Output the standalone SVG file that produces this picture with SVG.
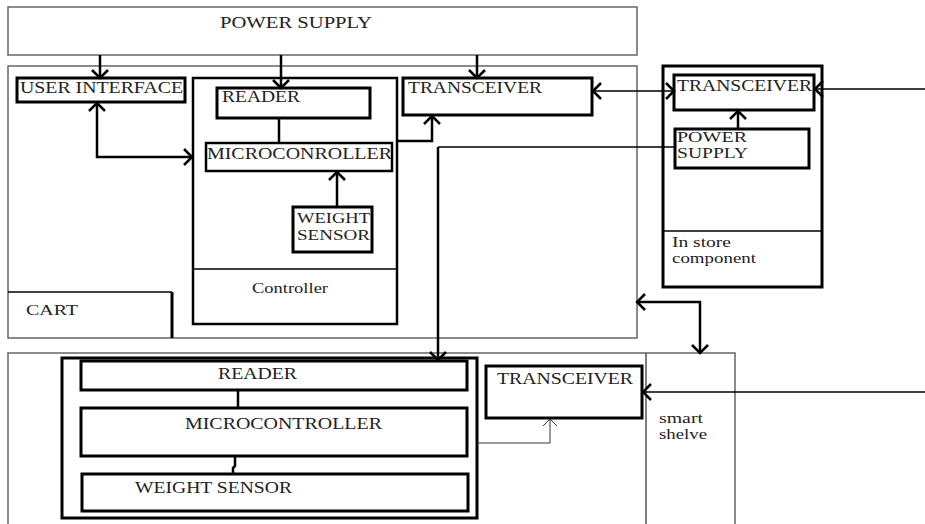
<svg xmlns="http://www.w3.org/2000/svg" width="925" height="524" viewBox="0 0 925 524">
<style>
.bg{fill:#fff}
.thin{fill:none;stroke:#666;stroke-width:1.5}
.box{fill:#fff;stroke:#000;stroke-width:3}
.mid{fill:none;stroke:#000;stroke-width:2.5}
.t{font-family:"Liberation Serif","Times New Roman",serif;font-size:17px;fill:#222}
.t2{font-family:"Liberation Serif","Times New Roman",serif;font-size:14.5px;fill:#222}
.s{font-family:"Liberation Serif","Times New Roman",serif;font-size:15px;fill:#222}
.s2{font-family:"Liberation Serif","Times New Roman",serif;font-size:14px;fill:#222}
.c{fill:none;stroke:#000;stroke-width:2.5}
.cl{fill:none;stroke:#000;stroke-width:1.5}
.cs{fill:none;stroke:#333;stroke-width:1}
</style>
<defs>
<marker id="ah" markerUnits="userSpaceOnUse" viewBox="-12 -10 14 20" markerWidth="14" markerHeight="20" refX="0" refY="0" orient="auto-start-reverse">
<path d="M-8,-8 L0,0 L-8,8" fill="none" stroke="#000" stroke-width="2.5"/>
</marker>
<marker id="ahs" markerUnits="userSpaceOnUse" viewBox="-12 -10 14 20" markerWidth="14" markerHeight="20" refX="0" refY="0" orient="auto-start-reverse">
<path d="M-7,-7 L0,0 L-7,7" fill="none" stroke="#333" stroke-width="1"/>
</marker>
</defs>
<rect class="bg" x="0" y="0" width="925" height="524"/>

<g id="power-supply">
<rect class="thin" x="8" y="7" width="629" height="48"/>
<text class="t" x="220" y="28" textLength="152" lengthAdjust="spacingAndGlyphs">POWER SUPPLY</text>
</g>

<g id="cart">
<rect class="thin" x="8" y="66" width="629" height="272" stroke="#444"/>
<path d="M8,292 H172" fill="none" stroke="#000" stroke-width="1.5"/>
<path d="M172,292 V338" fill="none" stroke="#000" stroke-width="3"/>
<text class="s" x="26" y="315" textLength="52" lengthAdjust="spacingAndGlyphs">CART</text>
</g>

<g id="user-interface">
<rect class="box" x="17" y="78" width="168" height="24"/>
<text class="t" x="20" y="93" textLength="163" lengthAdjust="spacingAndGlyphs">USER INTERFACE</text>
</g>

<g id="controller">
<rect class="mid" x="193" y="78" width="204" height="246"/>
<line x1="193" y1="269" x2="397" y2="269" stroke="#000" stroke-width="1.5"/>
<text class="s" x="252" y="293" textLength="76" lengthAdjust="spacingAndGlyphs">Controller</text>
</g>

<g id="cart-reader">
<rect class="box" x="217" y="88" width="153" height="30"/>
<text class="t" x="222" y="102" textLength="78" lengthAdjust="spacingAndGlyphs">READER</text>
</g>

<g id="cart-microcontroller">
<rect class="mid" x="206" y="143" width="186" height="28"/>
<text class="t" x="207" y="159" textLength="185" lengthAdjust="spacingAndGlyphs">MICROCONROLLER</text>
</g>

<g id="cart-weight-sensor">
<rect class="box" x="293" y="207" width="79" height="45"/>
<text class="t2" x="297" y="223" textLength="73" lengthAdjust="spacingAndGlyphs">WEIGHT</text>
<text class="t2" x="297" y="240" textLength="73" lengthAdjust="spacingAndGlyphs">SENSOR</text>
</g>

<g id="cart-transceiver">
<rect class="box" x="403" y="78" width="189" height="37"/>
<text class="t" x="408" y="93" textLength="134" lengthAdjust="spacingAndGlyphs">TRANSCEIVER</text>
</g>

<g id="in-store-component">
<rect class="box" x="663" y="66" width="159" height="221"/>
<line x1="663" y1="231" x2="822" y2="231" stroke="#000" stroke-width="1.5"/>
<text class="s2" x="672" y="247" textLength="59" lengthAdjust="spacingAndGlyphs">In store</text>
<text class="s2" x="672" y="263" textLength="84" lengthAdjust="spacingAndGlyphs">component</text>
</g>

<g id="store-transceiver">
<rect class="box" x="674" y="75" width="140" height="35"/>
<text class="t" x="677" y="91" textLength="135" lengthAdjust="spacingAndGlyphs">TRANSCEIVER</text>
</g>

<g id="store-power-supply">
<rect class="box" x="675" y="129" width="134" height="39"/>
<text class="t2" x="677" y="142" textLength="70" lengthAdjust="spacingAndGlyphs">POWER</text>
<text class="t2" x="677" y="158" textLength="71" lengthAdjust="spacingAndGlyphs">SUPPLY</text>
</g>

<g id="smart-shelve">
<path d="M8,530 V353 H735 V530" class="thin" stroke="#555"/>
<line x1="646" y1="353" x2="646" y2="530" stroke="#555" stroke-width="1.5"/>
<text class="s2" x="659" y="423" textLength="44" lengthAdjust="spacingAndGlyphs">smart</text>
<text class="s2" x="659" y="439" textLength="48" lengthAdjust="spacingAndGlyphs">shelve</text>
</g>

<g id="shelf-controller">
<rect class="box" x="62" y="358" width="415" height="160"/>
</g>

<g id="shelf-reader">
<rect class="box" x="81" y="361" width="386" height="29"/>
<text class="t" x="218" y="379" textLength="79" lengthAdjust="spacingAndGlyphs">READER</text>
</g>

<g id="shelf-microcontroller">
<rect class="box" x="81" y="408" width="386" height="48"/>
<text class="t" x="185" y="429" textLength="197" lengthAdjust="spacingAndGlyphs">MICROCONTROLLER</text>
</g>

<g id="shelf-weight-sensor">
<rect class="box" x="82" y="474" width="386" height="37"/>
<text class="t" x="135" y="493" textLength="157" lengthAdjust="spacingAndGlyphs">WEIGHT SENSOR</text>
</g>

<g id="shelf-transceiver">
<rect class="box" x="486" y="366" width="156" height="52"/>
<text class="t" x="497" y="384" textLength="136" lengthAdjust="spacingAndGlyphs">TRANSCEIVER</text>
</g>

<g id="connectors">
<path class="c" d="M100,55 V78" marker-end="url(#ah)"/>
<path class="c" d="M281,55 V88" marker-end="url(#ah)"/>
<path class="c" d="M477,55 V78" marker-end="url(#ah)"/>
<path class="c" d="M97,103 V157 H192" marker-start="url(#ah)" marker-end="url(#ah)"/>
<path class="c" d="M279,118 V143"/>
<path class="c" d="M337,207 V172" marker-end="url(#ah)"/>
<path class="c" d="M397,141 H432 V116" marker-end="url(#ah)"/>
<path class="cl" d="M593,91 H674" marker-start="url(#ah)" marker-end="url(#ah)"/>
<path class="cl" d="M925,89 H815" marker-end="url(#ah)"/>
<path class="c" d="M738,129 V111" marker-end="url(#ah)"/>
<path class="cl" d="M675,147 H438" />
<path class="c" d="M438,147 V360" marker-end="url(#ah)"/>
<path class="c" d="M637,302 H700 V353" marker-start="url(#ah)" marker-end="url(#ah)"/>
<path class="cs" d="M477,443 H550 V419" marker-end="url(#ahs)"/>
<path class="cl" d="M925,392 H643" marker-end="url(#ah)"/>
<path class="c" d="M238,390 V408"/>
<path class="c" d="M235,456 V466 L233,468 V474"/>
</g>
</svg>
